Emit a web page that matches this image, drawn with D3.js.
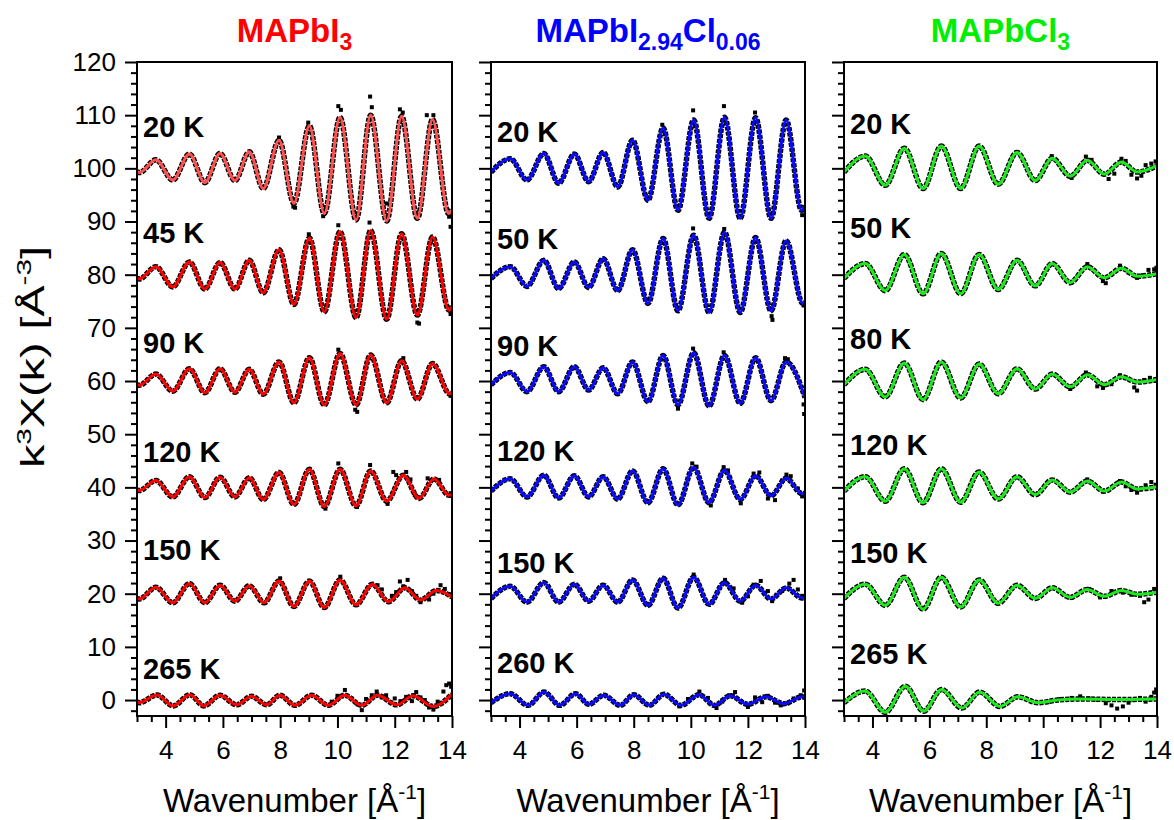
<!DOCTYPE html>
<html><head><meta charset="utf-8">
<script src="https://cdn.jsdelivr.net/npm/d3@7"></script>
<style>body{margin:0;background:#fff}svg{display:block}</style>
</head><body><svg id="c" width="1174" height="820"></svg>
<script>
// ---------- data (k in 1/Å, value = k^3 chi(k) + vertical offset) ----------
const kTicks = [4, 6, 8, 10, 12, 14];
const yTicks = [0, 10, 20, 30, 40, 50, 60, 70, 80, 90, 100, 110, 120];
const titles = ["MAPbI3", "MAPbI2.94Cl0.06", "MAPbCl3"];
const tempsI = ["20 K", "45 K", "90 K", "120 K", "150 K", "265 K"];
const tempsB = ["20 K", "50 K", "90 K", "120 K", "150 K", "260 K"];
const tempsG = ["20 K", "50 K", "80 K", "120 K", "150 K", "265 K"];

// MAPbI3 fits
const pI_20 = [[3.0,99.4],[3.08,99.2],[3.66,101.6],[4.25,97.8],[4.83,102.7],[5.37,97.3],[5.90,102.8],[6.42,97.7],[6.92,103.1],[7.41,96.2],[7.96,105.3],[8.48,93.4],[9.02,108.0],[9.54,91.5],[10.09,109.6],[10.65,90.3],[11.16,110.0],[11.72,90.1],[12.24,109.8],[12.79,90.6],[13.32,109.2],[13.88,91.5],[14.0,92.2]];
const pI_45 = [[3.0,79.3],[3.08,79.2],[3.66,81.5],[4.25,77.7],[4.83,82.4],[5.37,77.3],[5.90,82.3],[6.42,77.3],[6.92,82.7],[7.41,76.6],[7.96,84.7],[8.48,74.4],[9.02,86.9],[9.54,73.0],[10.09,88.1],[10.65,71.9],[11.16,88.3],[11.72,71.6],[12.24,87.7],[12.79,72.4],[13.32,87.1],[13.9,73.3],[14.0,74.0]];
const pI_90 = [[3.0,59.3],[3.08,59.2],[3.66,61.3],[4.25,58.1],[4.83,62.3],[5.37,57.8],[5.90,62.3],[6.42,57.9],[6.92,62.2],[7.41,57.5],[7.96,63.6],[8.48,55.9],[9.02,64.4],[9.54,55.5],[10.09,65.2],[10.65,55.5],[11.16,64.9],[11.72,55.9],[12.24,63.8],[12.79,56.6],[13.32,63.3],[13.92,57.6],[14.0,57.8]];
const pI_120 = [[3.0,39.5],[3.08,39.4],[3.66,41.3],[4.25,38.2],[4.83,42.0],[5.37,38.1],[5.90,41.9],[6.42,38.2],[6.92,41.8],[7.41,37.7],[7.96,42.8],[8.48,36.8],[9.02,43.4],[9.54,36.4],[10.09,43.4],[10.65,36.5],[11.16,43.1],[11.72,37.4],[12.30,42.3],[12.85,37.9],[13.37,41.6],[13.9,38.5],[14.0,38.6]];
const pI_150 = [[3.0,19.1],[3.08,19.0],[3.66,21.2],[4.25,18.3],[4.83,21.9],[5.37,18.3],[5.90,21.6],[6.42,18.6],[6.92,21.5],[7.44,18.3],[7.96,22.4],[8.48,17.6],[9.02,22.4],[9.54,17.4],[10.09,22.6],[10.65,17.9],[11.22,21.8],[11.78,18.5],[12.36,21.1],[12.90,18.8],[13.46,20.6],[14.0,19.4]];
const pI_265 = [[3.0,-0.4],[3.08,-0.5],[3.70,0.95],[4.26,-1.1],[4.85,1.0],[5.33,-1.1],[5.90,0.9],[6.48,-0.9],[7.0,0.7],[7.53,-0.9],[7.99,0.9],[8.52,-1.0],[9.1,0.9],[9.68,-1.0],[10.25,0.9],[10.85,-1.0],[11.4,0.9],[12.07,-0.9],[12.64,0.8],[13.34,-1.2],[14.0,1.1]];
// MAPbI3 measured points that stand out from the fit
const dI_20 = [[7.96,105.8],[8.46,92.8],[8.52,92.6],[8.98,108.6],[9.5,91.0],[10.03,111.7],[10.12,111.0],[11.14,113.5],[11.2,111.5],[11.72,93.4],[12.18,111.1],[12.28,110.5],[13.12,110.0],[13.35,110.0],[13.9,90.9],[13.95,89.0]];
const dI_45 = [[9.0,87.6],[10.03,89.3],[11.12,89.8],[12.79,71.0],[12.85,70.8],[13.95,72.6],[13.98,73.8]];
const dI_90 = [[10.03,65.9],[10.62,54.6],[10.69,54.2],[12.3,64.3],[13.95,57.2]];
const dI_120 = [[9.58,36.0],[10.03,44.5],[10.68,36.3],[11.14,44.2],[11.75,36.9],[11.95,42.9],[12.05,42.3],[12.4,42.9],[12.55,41.5],[12.7,38.6],[13.15,41.7],[13.55,41.4],[13.95,38.9]];
const dI_150 = [[8.0,22.9],[10.1,23.2],[11.4,21.6],[11.55,20.8],[11.9,19.6],[12.05,20.3],[12.18,22.3],[12.3,21.4],[12.45,22.6],[12.6,20.5],[12.75,19.6],[12.9,18.4],[13.05,19.2],[13.2,18.9],[13.35,20.0],[13.6,21.6],[13.75,20.9],[13.9,19.9]];
const dI_265 = [[9.8,-0.3],[10.0,0.8],[10.26,1.9],[10.5,0.3],[10.7,-0.8],[10.85,-1.9],[11.0,0.2],[11.2,0.9],[11.37,1.6],[11.55,0.5],[11.7,0.9],[11.85,-0.4],[12.0,0.3],[12.2,-0.2],[12.4,0.6],[12.6,-0.2],[12.75,1.5],[12.9,0.5],[13.05,0.0],[13.2,-1.4],[13.35,-1.8],[13.5,-0.3],[13.7,1.6],[13.8,2.8],[13.9,3.1],[13.97,2.5]];

// MAPbI2.94Cl0.06 fits
const pB_20 = [[3.0,99.3],[3.68,101.8],[4.26,97.8],[4.85,102.8],[5.37,97.2],[5.92,102.7],[6.42,97.5],[6.93,103.0],[7.44,96.5],[7.96,105.3],[8.50,94.0],[9.03,107.6],[9.55,92.1],[10.10,109.1],[10.64,90.6],[11.18,109.6],[11.73,90.6],[12.27,109.5],[12.81,90.6],[13.34,109.1],[13.88,92.1],[14.0,93.0]];
const pB_50 = [[3.0,79.3],[3.68,81.5],[4.26,77.8],[4.85,82.7],[5.37,77.4],[5.92,82.4],[6.42,77.6],[6.93,83.0],[7.44,77.0],[7.96,84.7],[8.50,74.6],[9.03,86.8],[9.55,73.2],[10.10,87.4],[10.64,72.9],[11.18,88.0],[11.73,72.9],[12.27,87.0],[12.81,73.2],[13.34,86.4],[13.92,74.6],[14.0,74.9]];
const pB_90 = [[3.0,59.3],[3.68,61.6],[4.26,58.0],[4.85,62.7],[5.37,58.0],[5.92,62.7],[6.42,58.3],[6.93,62.5],[7.44,57.6],[7.96,63.6],[8.50,56.1],[9.03,64.8],[9.55,55.5],[10.10,65.3],[10.64,55.3],[11.18,64.8],[11.73,55.8],[12.27,64.4],[12.81,56.3],[13.34,63.6],[14.0,56.9]];
const pB_120 = [[3.0,39.3],[3.68,41.6],[4.26,38.2],[4.85,42.3],[5.37,38.0],[5.92,42.2],[6.42,38.2],[6.93,42.0],[7.44,37.8],[7.96,43.1],[8.50,37.1],[9.03,43.5],[9.55,36.7],[10.10,43.8],[10.64,37.1],[11.18,43.2],[11.73,37.7],[12.27,42.2],[12.81,38.4],[13.34,41.7],[13.9,38.8],[14.0,38.9]];
const pB_150 = [[3.0,19.1],[3.68,21.4],[4.26,18.4],[4.85,22.1],[5.37,18.4],[5.92,21.8],[6.42,18.6],[6.93,21.6],[7.44,18.4],[7.96,22.6],[8.50,17.8],[9.03,22.9],[9.55,17.3],[10.10,23.1],[10.64,18.0],[11.18,22.1],[11.73,18.6],[12.27,21.6],[12.81,19.0],[13.34,21.1],[13.9,19.2],[14.0,19.3]];
const pB_260 = [[3.0,-0.5],[3.67,1.2],[4.3,-1.0],[4.86,1.5],[5.41,-1.0],[5.96,1.2],[6.43,-0.8],[6.95,0.9],[7.53,-1.0],[8.0,1.0],[8.55,-1.0],[9.06,1.1],[9.65,-1.0],[10.29,1.0],[10.83,-1.0],[11.38,0.8],[12.0,-0.8],[12.63,0.6],[13.26,-0.7],[13.9,0.6],[14.0,0.5]];
const dB_20 = [[9.0,108.2],[10.08,110.9],[11.16,111.7],[12.25,110.5],[13.9,91.2]];
const dB_50 = [[10.08,88.7],[11.17,88.6],[12.83,72.2],[12.86,71.5],[13.95,74.2]];
const dB_90 = [[9.55,54.8],[10.08,66.1],[11.15,65.4],[13.3,64.3],[13.4,64.1],[13.95,55.6],[13.97,53.8]];
const dB_120 = [[10.05,44.5],[10.2,43.9],[10.7,36.6],[11.15,43.8],[11.3,43.2],[11.75,37.0],[12.2,42.6],[12.4,42.8],[12.7,37.9],[12.95,37.6],[13.2,41.3],[13.35,42.4],[13.5,42.1],[13.75,39.8],[13.9,38.3]];
const dB_150 = [[10.1,23.6],[11.2,22.6],[11.5,21.0],[11.8,18.3],[12.0,19.5],[12.2,21.7],[12.45,22.4],[12.7,20.5],[12.85,18.6],[13.0,19.8],[13.2,20.5],[13.45,21.9],[13.6,22.6],[13.75,20.8],[13.9,19.6]];
const dB_260 = [[9.6,-1.2],[9.9,0.2],[10.3,1.6],[10.6,0.4],[10.9,-1.5],[11.1,-0.3],[11.35,0.9],[11.55,1.5],[11.75,-0.2],[12.0,-1.3],[12.25,0.5],[12.5,-0.4],[12.7,0.8],[12.95,-0.5],[13.15,-1.0],[13.4,-0.6],[13.6,0.3],[13.85,0.9],[13.97,1.8]];

// MAPbCl3 fits
const pG_20 = [[3.0,99.3],[3.75,102.3],[4.45,96.8],[5.12,103.8],[5.78,96.2],[6.42,104.2],[7.1,96.2],[7.75,104.2],[8.42,97.0],[9.08,103.0],[9.72,97.7],[10.32,101.9],[10.95,98.5],[11.55,101.5],[12.15,98.9],[12.75,101.2],[13.3,99.3],[14.0,100.5]];
const pG_50 = [[3.0,79.3],[3.75,82.1],[4.45,77.0],[5.12,83.8],[5.78,76.4],[6.42,84.0],[7.1,76.4],[7.75,83.8],[8.42,77.2],[9.08,82.7],[9.72,77.9],[10.32,82.1],[10.95,78.5],[11.55,81.5],[12.15,79.4],[12.75,81.2],[13.3,79.7],[14.0,80.2]];
const pG_80 = [[3.0,59.3],[3.75,62.2],[4.45,57.0],[5.12,63.4],[5.78,56.5],[6.42,63.6],[7.1,56.8],[7.75,63.2],[8.42,57.6],[9.08,62.3],[9.72,58.5],[10.32,61.3],[10.95,58.9],[11.55,61.2],[12.15,59.3],[12.75,60.8],[13.3,59.8],[14.0,60.3]];
const pG_120 = [[3.0,39.3],[3.75,42.0],[4.45,37.4],[5.12,43.5],[5.78,37.1],[6.42,43.5],[7.1,37.2],[7.75,42.9],[8.42,37.8],[9.08,42.0],[9.72,38.6],[10.32,41.4],[10.95,39.1],[11.55,41.2],[12.15,39.3],[12.75,41.0],[13.3,39.7],[14.0,40.1]];
const pG_150 = [[3.0,19.1],[3.75,21.8],[4.45,17.8],[5.12,23.1],[5.78,17.1],[6.42,23.1],[7.1,17.5],[7.75,22.6],[8.42,18.2],[9.08,21.6],[9.72,19.1],[10.32,21.1],[10.95,19.3],[11.55,20.8],[12.15,19.5],[12.75,20.6],[13.3,19.9],[14.0,20.3]];
const pG_265 = [[3.0,-0.5],[3.74,1.7],[4.45,-2.3],[5.16,2.6],[5.8,-2.1],[6.43,2.0],[7.14,-1.5],[7.77,1.5],[8.48,-1.2],[9.11,0.6],[9.82,-0.5],[10.5,0.0],[11.3,0.2],[12.5,0.1],[14.0,0.2]];
const dG_20 = [[10.3,102.3],[11.0,98.2],[11.5,102.2],[11.7,101.6],[12.3,98.0],[12.5,99.0],[12.75,101.8],[12.9,101.4],[13.1,98.8],[13.3,98.1],[13.45,98.6],[13.6,100.6],[13.8,100.9],[13.95,101.3]];
const dG_50 = [[11.55,82.0],[12.1,78.8],[12.2,78.4],[12.7,81.7],[13.0,80.4],[13.3,79.4],[13.5,79.9],[13.7,80.9],[13.9,81.0],[13.98,81.3]];
const dG_80 = [[10.95,58.5],[11.5,61.6],[11.9,59.0],[12.1,58.7],[12.4,59.4],[12.7,61.1],[13.0,60.4],[13.2,58.8],[13.3,58.2],[13.55,60.2],[13.75,60.6],[13.95,60.0]];
const dG_120 = [[11.55,41.5],[12.1,39.2],[12.7,41.2],[12.9,40.2],[13.1,39.5],[13.3,39.0],[13.6,40.4],[13.8,41.0],[13.95,40.5]];
const dG_150 = [[11.0,19.2],[11.6,20.9],[12.0,19.3],[12.4,20.5],[12.8,20.2],[13.1,19.8],[13.4,19.6],[13.55,18.4],[13.7,18.9],[13.9,20.9],[13.98,20.6]];
const dG_265 = [[10.2,-0.3],[10.6,0.2],[11.0,0.4],[11.3,0.7],[11.6,0.3],[11.9,0.1],[12.2,-0.6],[12.4,-1.0],[12.6,-1.6],[12.8,-1.2],[13.0,-0.5],[13.2,0.0],[13.4,0.4],[13.6,-0.3],[13.8,0.6],[13.9,1.4],[13.97,2.0]];

// label anchors (value units) for the temperature annotations
const labelValI = [107.8, 87.8, 67.1, 46.6, 28.2, 5.8];
const labelValB = [106.8, 86.7, 66.5, 46.8, 25.8, 7.0];
const labelValG = [108.3, 88.7, 67.9, 48.0, 27.7, 8.7];

// ---------- drawing ----------
const svg = d3.select('#c');
const FONT = "Arial, 'Liberation Sans', sans-serif";
const plotTop = 62, plotBottom = 716;
const lefts = [137, 491, 844], rights = [452, 805, 1157];
const y = d3.scaleLinear().domain([-3, 120]).range([plotBottom, plotTop]);

const panels = [
  {fits:[pI_20,pI_45,pI_90,pI_120,pI_150,pI_265], pts:[dI_20,dI_45,dI_90,dI_120,dI_150,dI_265],
   temps:tempsI, lab:labelValI, colors:['#ff5050','#ff0000','#ff0000','#ff0000','#ff0000','#ff0000'], tcolor:'#ff0000',
   title:[['MAPbI',0],['3',1]]},
  {fits:[pB_20,pB_50,pB_90,pB_120,pB_150,pB_260], pts:[dB_20,dB_50,dB_90,dB_120,dB_150,dB_260],
   temps:tempsB, lab:labelValB, colors:Array(6).fill('#0a0aff'), tcolor:'#0000ff',
   title:[['MAPbI',0],['2.94',1],['Cl',0],['0.06',1]]},
  {fits:[pG_20,pG_50,pG_80,pG_120,pG_150,pG_265], pts:[dG_20,dG_50,dG_80,dG_120,dG_150,dG_265],
   temps:tempsG, lab:labelValG, colors:Array(6).fill('#1ee81e'), tcolor:'#00ee00',
   title:[['MAPbCl',0],['3',1]]}
];

panels.forEach((p, i) => {
  const x = d3.scaleLinear().domain([3, 14]).range([lefts[i], rights[i]]);
  const g = svg.append('g');
  const cid = 'clip' + i;
  svg.append('clipPath').attr('id', cid).append('rect')
    .attr('x', lefts[i]).attr('y', plotTop).attr('width', rights[i]-lefts[i]).attr('height', plotBottom-plotTop);
  const line = d3.line().x(d => x(d[0])).y(d => y(d[1])).curve(d3.curveMonotoneX);
  const cg = g.append('g').attr('clip-path', `url(#${cid})`);

  p.fits.forEach((f, j) => {
    // measured data (black squares) underneath
    cg.append('path').datum(f).attr('d', line).attr('fill', 'none')
      .attr('stroke', '#000').attr('stroke-width', 5.5).attr('stroke-dasharray', '4 1.2');
    cg.selectAll(null).data(p.pts[j]).enter().append('rect')
      .attr('x', d => x(d[0]) - 2).attr('y', d => y(d[1]) - 2)
      .attr('width', 4).attr('height', 4).attr('fill', '#000');
    // fit line
    cg.append('path').datum(f).attr('d', line).attr('fill', 'none')
      .attr('stroke', p.colors[j]).attr('stroke-width', 3).attr('stroke-linejoin', 'round');
  });

  // temperature labels
  g.selectAll(null).data(p.temps).enter().append('text')
    .attr('x', lefts[i] + 6).attr('y', (d, j) => y(p.lab[j]) + 10)
    .attr('font-family', FONT).attr('font-weight', 'bold').attr('font-size', 29)
    .attr('fill', '#000').text(d => d);

  // frame
  g.append('rect').attr('x', lefts[i]).attr('y', plotTop)
    .attr('width', rights[i]-lefts[i]).attr('height', plotBottom-plotTop)
    .attr('fill', 'none').attr('stroke', '#000').attr('stroke-width', 2);

  // y axis major
  const ya = d3.axisLeft(y).tickValues(yTicks).tickSize(12).tickSizeOuter(0).tickPadding(9)
    .tickFormat(i === 0 ? d3.format('d') : () => '');
  const yg = g.append('g').attr('transform', `translate(${lefts[i]},0)`).call(ya);
  // y axis minor
  const yMinor = d3.range(-2, 121, 2).filter(v => v % 10 !== 0);
  const yg2 = g.append('g').attr('transform', `translate(${lefts[i]},0)`)
    .call(d3.axisLeft(y).tickValues(yMinor).tickSize(6).tickSizeOuter(0).tickFormat(() => ''));
  // x axis major
  const xg = g.append('g').attr('transform', `translate(0,${plotBottom})`)
    .call(d3.axisBottom(x).tickValues(kTicks).tickSize(12).tickSizeOuter(0).tickPadding(13).tickFormat(d3.format('d')));
  const xMinor = d3.range(3, 14.01, 0.5).filter(v => kTicks.indexOf(v) < 0);
  const xg2 = g.append('g').attr('transform', `translate(0,${plotBottom})`)
    .call(d3.axisBottom(x).tickValues(xMinor).tickSize(6).tickSizeOuter(0).tickFormat(() => ''));
  [yg, yg2, xg, xg2].forEach(a => {
    a.select('.domain').remove();
    a.selectAll('line').attr('stroke', '#000').attr('stroke-width', 2);
    a.selectAll('text').attr('font-family', FONT).attr('font-size', 26).attr('fill', '#000');
  });

  // panel title
  const cx = (lefts[i] + rights[i]) / 2;
  const t = svg.append('text').attr('x', cx).attr('y', 42).attr('text-anchor', 'middle')
    .attr('font-family', FONT).attr('font-weight', 'bold').attr('font-size', 33).attr('fill', p.tcolor);
  let shifted = false;
  p.title.forEach(([s, sub]) => {
    const ts = t.append('tspan').text(s);
    if (sub && !shifted) { ts.attr('dy', 8).attr('font-size', 23); shifted = true; }
    else if (!sub && shifted) { ts.attr('dy', -8); shifted = false; }
    else if (sub) ts.attr('font-size', 23);
  });

  // x title
  const xt = svg.append('text').attr('x', cx).attr('y', 812).attr('text-anchor', 'middle')
    .attr('font-family', FONT).attr('font-size', 33).attr('fill', '#000');
  xt.append('tspan').text('Wavenumber [Å');
  xt.append('tspan').attr('dy', -13).attr('font-size', 21).text('-1');
  xt.append('tspan').attr('dy', 13).text(']');
});

// y title
const yt = svg.append('text').attr('transform', 'translate(44,357) rotate(-90)')
  .attr('text-anchor', 'middle').attr('font-family', FONT).attr('font-size', 33).attr('fill', '#000')
  .attr('textLength', 222).attr('lengthAdjust', 'spacingAndGlyphs');
yt.append('tspan').text('k');
yt.append('tspan').attr('dy', -13).attr('font-size', 21).text('3');
yt.append('tspan').attr('dy', 13).text('Χ(k) [Å');
yt.append('tspan').attr('dy', -13).attr('font-size', 21).text('-3');
yt.append('tspan').attr('dy', 13).text(']');
</script></body></html>
